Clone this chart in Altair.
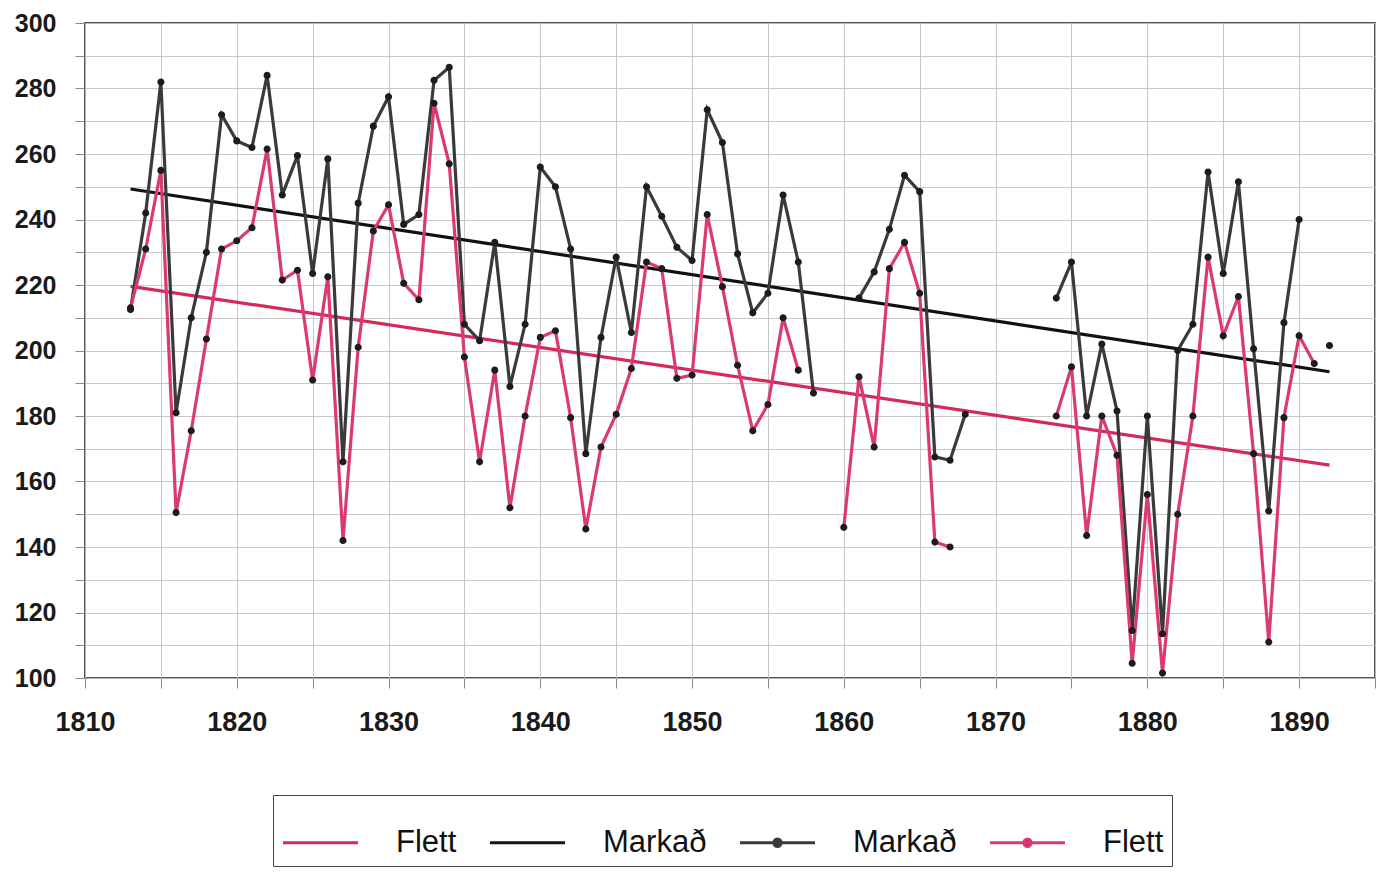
import altair as alt
import pandas as pd

# ---------------- data ----------------
years = list(range(1813, 1893))

markad = [
    212.5, 242, 282, 181, 210, 230, 272, 264, 262, 284,          # 1813-1822
    247.5, 259.5, 223.5, 258.5, 166, 245, 268.5, 277.5, 238.5, 241.5,  # 1823-1832
    282.5, 286.5, 208, 203, 233, 189, 208, 256, 250, 231,        # 1833-1842
    168.5, 204, 228.5, 205.5, 250, 241, 231.5, 227.5, 273.5, 263.5,  # 1843-1852
    229.5, 211.5, 217.5, 247.5, 227, 187, None, None, 216, 224,  # 1853-1862
    237, 253.5, 248.5, 167.5, 166.5, 180.5, None, None, None, None,  # 1863-1872
    None, 216, 227, 180, 202, 181.5, 114.5, 180, 113.5, 200,     # 1873-1882
    208, 254.5, 223.5, 251.5, 200.5, 151, 208.5, 240, None, 201.5,  # 1883-1892
]

flett = [
    213, 231, 255, 150.5, 175.5, 203.5, 231, 233.5, 237.5, 261.5,  # 1813-1822
    221.5, 224.5, 191, 222.5, 142, 201, 236.5, 244.5, 220.5, 215.5,  # 1823-1832
    275.5, 257, 198, 166, 194, 152, 180, 204, 206, 179.5,        # 1833-1842
    145.5, 170.5, 180.5, 194.5, 227, 225, 191.5, 192.5, 241.5, 219.5,  # 1843-1852
    195.5, 175.5, 183.5, 210, 194, None, None, 146, 192, 170.5,  # 1853-1862
    225, 233, 217.5, 141.5, 140, None, None, None, None, None,   # 1863-1872
    None, 180, 195, 143.5, 180, 168, 104.5, 156, 101.5, 150,     # 1873-1882
    180, 228.5, 204.5, 216.5, 168.5, 111, 179.5, 204.5, 196, None,  # 1883-1892
]

trend_years = [1813, 1892]
markad_trend = [249.3, 193.5]
flett_trend = [219.6, 165.0]

legend_keys = ["Flett (leitni)", "Markað (leitni)", "Markað (gögn)", "Flett (gögn)"]
legend_colors = ["#d42a58", "#111111", "#3a3a3a", "#db3a70"]
legend_widths = [3.2, 3.2, 1.1, 1.1]

x_ticks = list(range(1810, 1896, 5))
y_ticks = list(range(100, 301, 10))

# ---------------- tables ----------------
df_data = pd.DataFrame(
    {
        "year": years * 2,
        "value": markad + flett,
        "key": [legend_keys[2]] * len(years) + [legend_keys[3]] * len(years),
    }
)
df_trend = pd.DataFrame(
    {
        "year": trend_years * 2,
        "value": markad_trend + flett_trend,
        "key": [legend_keys[1]] * 2 + [legend_keys[0]] * 2,
    }
)

DOT = "M-1,0H1M-0.095,0A0.095,0.095 0 1,0 0.095,0A0.095,0.095 0 1,0 -0.095,0Z"
legend_shapes = ["stroke", "stroke", DOT, DOT]

FONT = "Liberation Sans"

leg = alt.Legend(
    title=None,
    orient="none",
    legendX=188,
    legendY=772,
    direction="horizontal",
    columns=4,
    labelFont=FONT,
    labelFontSize=31,
    labelColor="#111111",
    labelOffset=36,
    columnPadding=26,
    padding=8,
    strokeColor="#444444",
    fillColor="#ffffff",
    symbolSize=5625,
    symbolFillColor="#1c1c1c",
    labelExpr="split(datum.label, ' ')[0]",
)

x_enc = alt.X(
    "year:Q",
    scale=alt.Scale(domain=[1810, 1895], nice=False, zero=False),
    axis=alt.Axis(
        values=x_ticks,
        format="d",
        labelExpr="datum.value % 10 == 0 ? datum.label : ''",
        title=None,
        domain=False,
        tickSize=10,
        labelPadding=21,
        labelFontSize=27,
        labelOverlap=False,
        labelFlush=False,
    ),
)
y_enc = alt.Y(
    "value:Q",
    scale=alt.Scale(domain=[100, 300], nice=False, zero=False),
    axis=alt.Axis(
        values=y_ticks,
        labelExpr="datum.value % 20 == 0 ? datum.label : ''",
        title=None,
        domain=False,
        tickSize=10,
        labelPadding=19,
        labelFontSize=25,
        labelOverlap=False,
        labelFlush=False,
    ),
)
color_enc = alt.Color(
    "key:N",
    scale=alt.Scale(domain=legend_keys, range=legend_colors),
    legend=leg,
)
width_enc = alt.StrokeWidth(
    "key:N",
    scale=alt.Scale(domain=legend_keys, range=legend_widths),
    legend=leg,
)

trend = alt.Chart(df_trend).mark_line().encode(
    x=x_enc, y=y_enc, color=color_enc, strokeWidth=width_enc
)

lines = alt.Chart(df_data).mark_line(invalid="break-paths-show-domains").encode(
    x=x_enc, y=y_enc, color=color_enc, strokeWidth=width_enc
)

points = alt.Chart(df_data).mark_point(
    filled=True, size=5625, fill="#1c1c1c", opacity=1
).encode(
    x=x_enc,
    y=y_enc,
    shape=alt.Shape(
        "key:N",
        scale=alt.Scale(domain=legend_keys, range=legend_shapes),
        legend=leg,
    ),
)

chart = (
    alt.layer(trend, lines, points)
    .properties(
        width=1290,
        height=655,
        autosize=alt.AutoSizeParams(type="none"),
        padding={"left": 77, "top": 15, "right": 3, "bottom": 208},
    )
    .configure(font=FONT)
    .configure_view(stroke="#555555", strokeWidth=2)
    .configure_axis(
        labelFont=FONT,
        labelFontWeight="bold",
        labelColor="#1a1a1a",
        gridColor="#c2c2c2",
        gridWidth=0.9,
        tickColor="#8a8a8a",
        tickWidth=1,
    )
)

chart.save("out.html", embed_options={"renderer": "svg", "actions": False})
